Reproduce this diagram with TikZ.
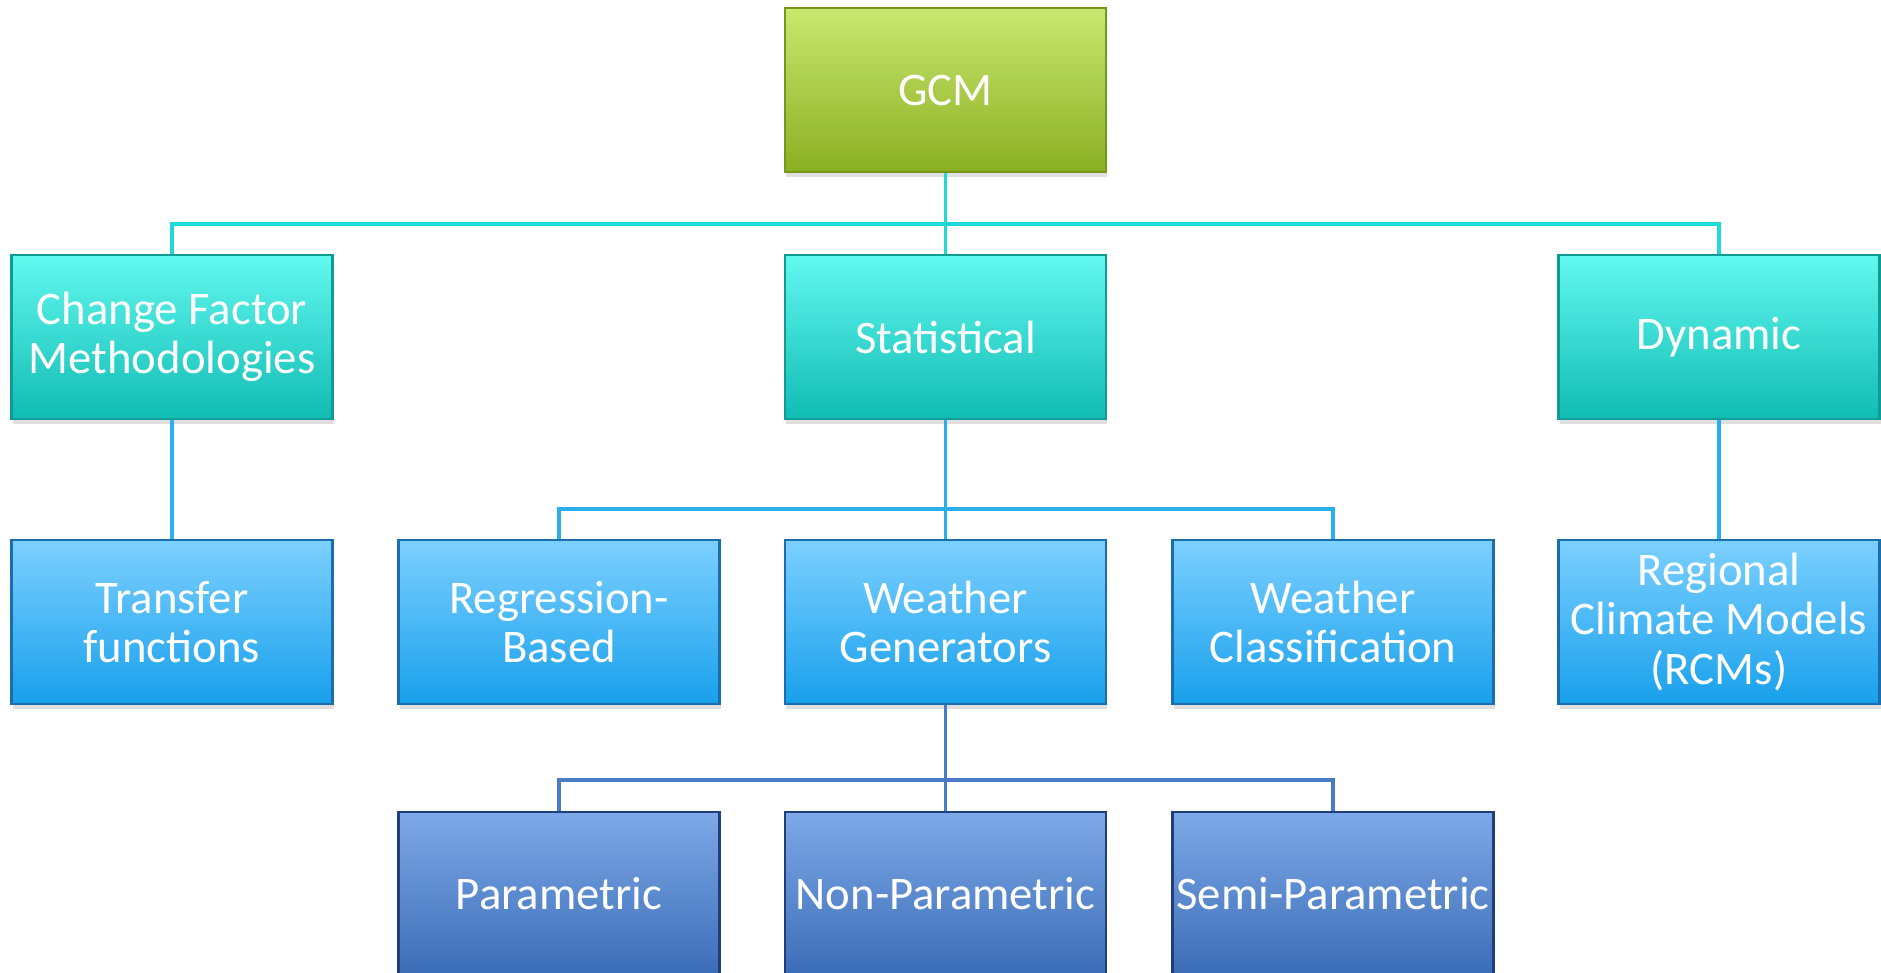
\documentclass[tikz,border=0pt]{standalone}
\usepackage{fontspec}
\setmainfont{Carlito}
\usetikzlibrary{shadows}

\definecolor{gcmtop}{HTML}{C8E870}
\definecolor{gcmbot}{HTML}{8BAF22}
\definecolor{gcmedge}{HTML}{76981A}
\definecolor{tealtop}{HTML}{62F8F0}
\definecolor{tealbot}{HTML}{10BCB3}
\definecolor{tealedge}{HTML}{0F9C94}
\definecolor{skytop}{HTML}{7CD0FF}
\definecolor{skybot}{HTML}{18A0EC}
\definecolor{skyedge}{HTML}{1B6DAE}
\definecolor{deeptop}{HTML}{7EA9E8}
\definecolor{deepbot}{HTML}{3A6CB6}
\definecolor{deepedge}{HTML}{1F3F7C}
\definecolor{linkA}{HTML}{1ED9D6}
\definecolor{linkB}{HTML}{2BAEEE}
\definecolor{linkC}{HTML}{4A7CC6}

\tikzset{
	box/.style={rectangle, minimum width=3.21cm, minimum height=1.64cm, inner sep=1pt,
		align=center, text=white, font=\fontsize{13.3}{14}\selectfont, line width=0.6pt,
		drop shadow={opacity=0.25, shadow xshift=0.4pt, shadow yshift=-1.5pt}},
	gcmbox/.style={box, draw=gcmedge, top color=gcmtop, bottom color=gcmbot},
	tealbox/.style={box, draw=tealedge, top color=tealtop, bottom color=tealbot},
	skybox/.style={box, draw=skyedge, top color=skytop, bottom color=skybot},
	deepbox/.style={box, draw=deepedge, top color=deeptop, bottom color=deepbot},
	linka/.style={draw=linkA, line width=0.9pt},
	linkb/.style={draw=linkB, line width=0.9pt},
	linkc/.style={draw=linkC, line width=0.9pt}
}

\begin{document}
\begin{tikzpicture}
	\clip (0,0) rectangle (18.81,9.72);

	%Ebene 1
	\node[gcmbox] (gcm) at (9.455,8.82) {GCM};

	%Ebene 2
	\node[tealbox] (cf) at (1.72,6.35) {Change Factor\\Methodologies};
	\node[tealbox] (stat) at (9.455,6.35) {Statistical};
	\node[tealbox] (dyn) at (17.19,6.35) {Dynamic};

	%Ebene 3
	\node[skybox] (transfer) at (1.72,3.50) {Transfer\\functions};
	\node[skybox] (regr) at (5.59,3.50) {Regression-\\Based};
	\node[skybox] (wgen) at (9.455,3.50) {Weather\\Generators};
	\node[skybox] (wclass) at (13.33,3.50) {Weather\\Classification};
	\node[skybox] (rcm) at (17.19,3.50) {Regional\\Climate Models\\(RCMs)};

	%Ebene 4
	\node[deepbox] (param) at (5.59,0.78) {Parametric};
	\node[deepbox] (nonparam) at (9.455,0.78) {Non-Parametric};
	\node[deepbox] (semi) at (13.33,0.78) {Semi-Parametric};

	%Sammelleitungen
	\coordinate (bus1) at (9.455,7.48);
	\coordinate (bus2) at (9.455,4.63);
	\coordinate (bus3) at (9.455,1.92);

	%Verbindungen
	\draw[linka] (gcm) -- (stat);
	\draw[linka] (cf.north) -- (cf.north |- bus1) -- (dyn.north |- bus1) -- (dyn.north);

	\draw[linkb] (cf) -- (transfer);
	\draw[linkb] (dyn) -- (rcm);
	\draw[linkb] (stat) -- (wgen);
	\draw[linkb] (regr.north) -- (regr.north |- bus2) -- (wclass.north |- bus2) -- (wclass.north);

	\draw[linkc] (wgen) -- (nonparam);
	\draw[linkc] (param.north) -- (param.north |- bus3) -- (semi.north |- bus3) -- (semi.north);

\end{tikzpicture}
\end{document}
